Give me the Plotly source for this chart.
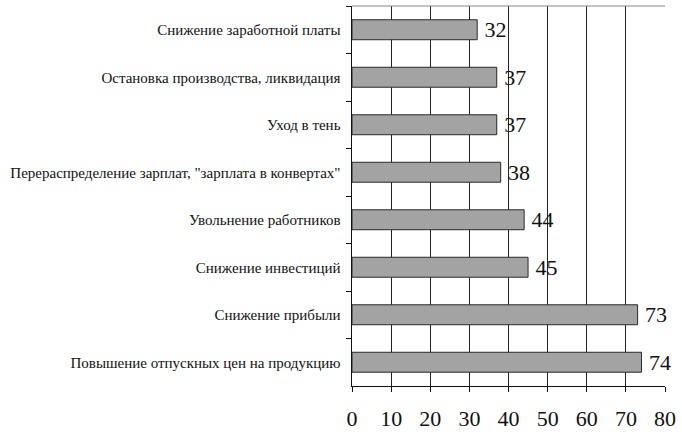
import plotly.graph_objects as go

# reasons, top to bottom as in the source figure
categories = [
    "Снижение заработной платы",
    "Остановка производства, ликвидация",
    "Уход в тень",
    "Перераспределение зарплат, \"зарплата в конвертах\"",
    "Увольнение работников",
    "Снижение инвестиций",
    "Снижение прибыли",
    "Повышение отпускных цен на продукцию",
]
values = [32, 37, 37, 38, 44, 45, 73, 74]
x_ticks = [0, 10, 20, 30, 40, 50, 60, 70, 80]

FONT = "'Liberation Serif', 'Times New Roman', serif"

fig = go.Figure()
fig.add_trace(go.Bar(
    x=values,
    y=categories,
    orientation="h",
    marker=dict(color="#a3a3a3", line=dict(color="#2a2a2a", width=1)),
    text=["\u2009" + str(v) for v in values],
    textposition="outside",
    textfont=dict(family=FONT, size=22, color="#111"),
    constraintext="none",
    cliponaxis=False,
    showlegend=False,
))

fig.update_layout(
    width=682,
    height=437,
    margin=dict(l=352, r=14, t=6, b=50),
    paper_bgcolor="white",
    plot_bgcolor="white",
    bargap=0.58,
    font=dict(family=FONT, color="#111"),
    xaxis=dict(
        range=[0, 80],
        tickvals=x_ticks,
        tickfont=dict(family=FONT, size=22),
        ticklabelstandoff=8,
        showgrid=True,
        gridcolor="#222",
        gridwidth=1,
        showline=True,
        linecolor="#111",
        linewidth=1,
        ticks="outside",
        ticklen=5,
        tickcolor="#111",
        zeroline=False,
        mirror=False,
    ),
    yaxis=dict(
        autorange="reversed",
        tickfont=dict(family=FONT, size=15),
        showline=True,
        linecolor="#111",
        linewidth=1,
        ticks="outside",
        tickson="boundaries",
        ticklen=5,
        tickcolor="#111",
        showgrid=False,
        ticksuffix="  ",
    ),
)

# thin grey frame along top edge
fig.add_shape(type="line", xref="paper", yref="paper", x0=0, x1=1, y0=1, y1=1,
              line=dict(color="#888", width=1))

fig.write_html("out.html", config={"displayModeBar": False},
               post_script="document.body.style.margin='0';")
